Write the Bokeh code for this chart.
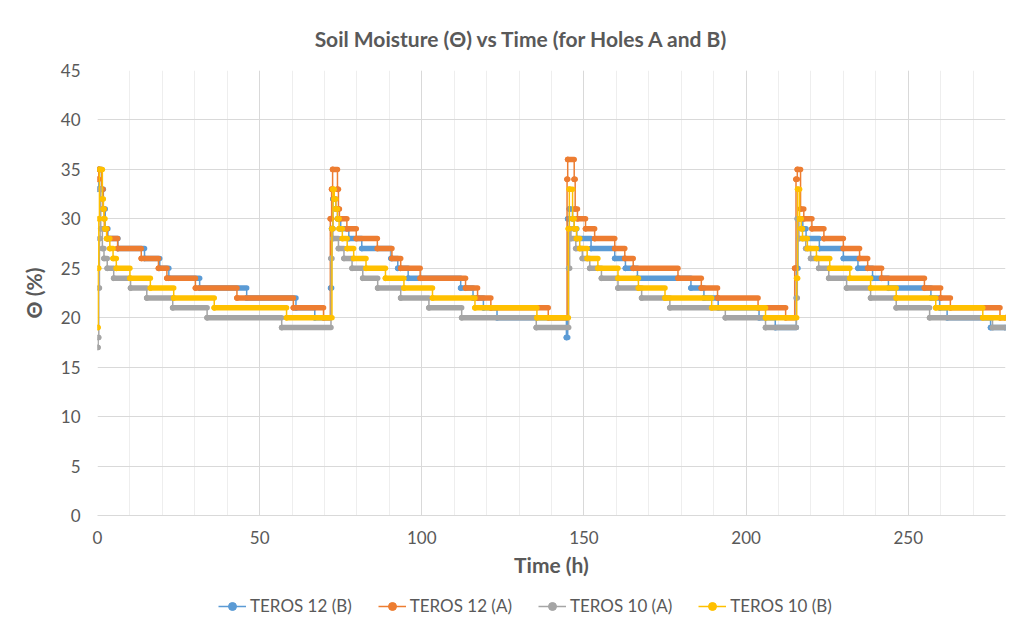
from bokeh.plotting import figure
from bokeh.layouts import column
from bokeh.models import (ColumnDataSource, Legend, LegendItem, SingleIntervalTicker,
                          Range1d, Label)
from bokeh.embed import file_html
from bokeh.resources import INLINE

# ---- data: step breakpoints (time in h, soil moisture in %) ----
t12b_t = [0, 0.4, 1.2, 1.8, 2.4, 3.2, 6.3, 14.5, 19.2, 22, 31.5, 46, 61.2, 67,
          71.9, 72.2, 72.6, 73.5, 74, 75, 77.5, 81.5, 90.5, 92.6, 95.8, 112, 115.8, 119, 123.2,
          144.6, 145, 145.5, 146.5, 147, 147.8, 152.2, 159.5, 162.8, 166.5, 183, 187, 191.4, 204, 209,
          215.5, 216, 217.5, 218.5, 222.6, 230, 234.5, 239, 243.9, 257, 259.7, 262, 275.4, 280]
t12b_v = [33, 35, 33, 31, 29, 28, 27, 26, 25, 24, 23, 22, 21, 20,
          23, 29, 32, 31, 30, 29, 28, 27, 26, 25, 24, 23, 22, 21, 20,
          18, 30, 31, 30, 29, 28, 27, 26, 25, 24, 23, 22, 21, 20, 19,
          25, 30, 29, 28, 27, 26, 25, 24, 23, 22, 21, 20, 19, 19]

t12a_t = [0, 0.4, 1.3, 1.7, 2.1, 3, 6.2, 13.5, 18.8, 21.4, 30.2, 43, 60.4, 69.7,
          71.8, 72.2, 72.5, 74, 74.3, 74.6, 76.9, 79.8, 86.3, 90.8, 93.5, 99.5, 113.5, 117.2, 121.3, 139,
          144.8, 145, 147, 147.3, 148, 150.5, 153.3, 159.5, 162.6, 165.2, 179, 186.2, 191.2, 203.7, 212.2,
          215, 215.4, 215.8, 216.8, 217.8, 220.3, 224, 230, 235, 237.5, 241.8, 255, 260, 263, 278.3, 280]
t12a_v = [34, 35, 33, 31, 29, 28, 27, 26, 25, 24, 23, 22, 21, 20,
          30, 33, 35, 33, 31, 30, 29, 28, 27, 26, 25, 24, 23, 22, 21, 20,
          34, 36, 34, 31, 30, 29, 28, 27, 26, 25, 24, 23, 22, 21, 20,
          25, 34, 35, 31, 30, 29, 28, 27, 26, 25, 24, 23, 22, 21, 20, 20]

t10a_t = [0, 0.2, 0.4, 0.6, 0.8, 1, 1.5, 2, 3, 5, 10.2, 15.2, 23.2, 33.8, 56.8,
          72, 72.3, 72.6, 74.3, 76, 78.5, 81.8, 86.4, 93.5, 102.2, 112.3, 135.3,
          145.3, 145.6, 146, 147.5, 149.5, 151.8, 155.4, 160.5, 167.8, 176.5, 193.6, 206,
          215.5, 215.8, 216.3, 218.4, 219.9, 222.4, 225.5, 231, 238.4, 246.3, 256.6, 276, 280]
t10a_v = [17, 18, 23, 28, 33, 29, 27, 26, 25, 24, 23, 22, 21, 20, 19,
          26, 29, 28, 27, 26, 25, 24, 23, 22, 21, 20, 19,
          25, 29, 28, 27, 26, 25, 24, 23, 22, 21, 20, 19,
          22, 30, 28, 27, 26, 25, 24, 23, 22, 21, 20, 19, 19]

t10b_t = [0, 0.2, 0.4, 0.6, 1.5, 1.8, 2, 2.3, 2.8, 3.8, 4.8, 5.8, 10, 16.3, 23.5, 36, 58.3,
          72.3, 72.6, 73, 73.5, 74, 74.5, 75.5, 77, 79, 82.8, 88.8, 94.5, 103.3, 116.4, 135.5,
          145.2, 145.5, 146.5, 147, 147.7, 148.7, 151, 154.3, 160.5, 166.8, 175, 189.4, 206,
          215.6, 215.9, 216.5, 217, 217.4, 218.9, 221.7, 225.8, 232, 238.4, 246.3, 258.5, 273, 280]
t10b_v = [19, 25, 30, 35, 32, 31, 30, 29, 28, 27, 26, 25, 24, 23, 22, 21, 20,
          29, 33, 32, 31, 30, 29, 28, 27, 26, 25, 24, 23, 22, 21, 20,
          29, 33, 30, 29, 28, 27, 26, 25, 24, 23, 22, 21, 20,
          24, 33, 30, 29, 28, 27, 26, 25, 24, 23, 22, 21, 20, 20]

series = [
    ("TEROS 12 (B)", t12b_t, t12b_v, "#5B9BD5"),
    ("TEROS 12 (A)", t12a_t, t12a_v, "#ED7D31"),
    ("TEROS 10 (A)", t10a_t, t10a_v, "#A5A5A5"),
    ("TEROS 10 (B)", t10b_t, t10b_v, "#FFC000"),
]
TITLE = "Soil Moisture (\u0398) vs Time (for Holes A and B)"

FONT = "Lato"
TXT = "#595959"

# title strip (its frame is aligned with the main frame by the column layout)
tf = figure(width=1010, height=57, output_backend="svg", toolbar_location=None,
            x_range=Range1d(0, 1), y_range=Range1d(0, 1),
            x_axis_location=None, y_axis_location=None, min_border=0)
tf.outline_line_color = None
tf.grid.grid_line_color = None
tf.add_layout(Label(x=424, y=19, x_units="screen", y_units="screen", text=TITLE,
                    text_align="center", text_baseline="middle", text_color=TXT,
                    text_font=FONT, text_font_size="21px", text_font_style="bold"))

p = figure(width=1010, height=531, output_backend="svg", toolbar_location=None,
           x_range=Range1d(0, 280), y_range=Range1d(0, 45),
           min_border_left=97, min_border_right=5, min_border_top=13, min_border_bottom=73)
p.outline_line_color = None
p.background_fill_color = "white"
p.border_fill_color = "white"

p.xaxis.ticker = SingleIntervalTicker(interval=50, num_minor_ticks=5)
p.yaxis.ticker = SingleIntervalTicker(interval=5, num_minor_ticks=0)
for ax in (p.xaxis[0], p.yaxis[0]):
    ax.major_tick_line_color = None
    ax.minor_tick_line_color = None
    ax.major_label_text_color = TXT
    ax.major_label_text_font = FONT
    ax.major_label_text_font_size = "17px"
    ax.axis_label_text_color = TXT
    ax.axis_label_text_font = FONT
    ax.axis_label_text_font_size = "21px"
    ax.axis_label_text_font_style = "bold"
p.xaxis.axis_line_color = "#d9d9d9"
p.yaxis.axis_line_color = None
p.xaxis.axis_label = "Time (h)"
p.yaxis.axis_label = "\u0398 (%)"
p.xaxis.major_label_standoff = 9
p.yaxis.major_label_standoff = 11
p.xaxis.axis_label_standoff = 5
p.yaxis.axis_label_standoff = 12

p.xgrid.grid_line_color = "#d9d9d9"
p.xgrid.minor_grid_line_color = "#eeeeee"
p.ygrid.grid_line_color = "#d9d9d9"

# legend strip: same series, drawn in a strip whose y range shows no data
lf = figure(width=1010, height=34, output_backend="svg", toolbar_location=None,
            x_range=Range1d(0, 280), y_range=Range1d(100, 101),
            x_axis_location=None, y_axis_location=None, min_border=0)
lf.outline_line_color = None
lf.grid.grid_line_color = None

items = []
for name, tt, vv, col in series:
    src = ColumnDataSource(dict(t=tt, v=vv))
    seg = ColumnDataSource(dict(x0=tt[:-1], x1=tt[1:], y=vv[:-1]))
    p.step("t", "v", source=src, mode="after", line_color=col, line_width=1.5)
    p.segment(x0="x0", x1="x1", y0="y", y1="y", source=seg, line_color=col,
              line_width=5.5, line_cap="round")
    p.scatter("t", "v", source=src, size=5, color=col)
    l_step = lf.step("t", "v", source=src, mode="after", line_color=col, line_width=1.5)
    l_dot = lf.scatter("t", "v", source=src, size=4, color=col)
    items.append(LegendItem(label=name, renderers=[l_step, l_dot]))

legend = Legend(items=items, orientation="horizontal", location=(121, 6),
                label_text_font=FONT, label_text_font_size="17px", label_text_color=TXT,
                glyph_width=28, label_standoff=4, spacing=26, border_line_color=None,
                background_fill_alpha=0, margin=0, padding=0)
lf.add_layout(legend, "center")

open("out.html", "w").write(file_html(column(tf, p, lf), INLINE))
